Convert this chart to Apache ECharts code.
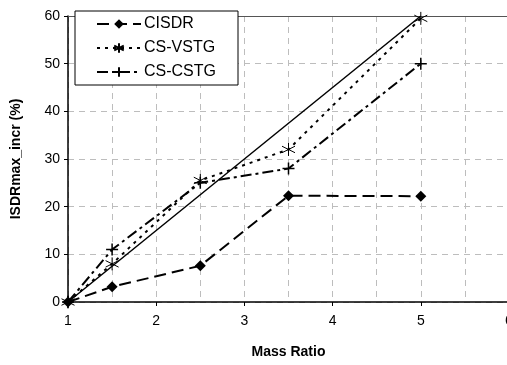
<!DOCTYPE html>
<html><head><meta charset="utf-8">
<script src="https://cdn.jsdelivr.net/npm/echarts@6/dist/echarts.min.js"></script>
<style>html,body{margin:0;padding:0;background:#fff}#c{width:507px;height:365px}</style>
</head><body><div id="c"></div>
<script>
const massRatio = [1, 1.5, 2.5, 3.5, 5];
const cisdr = [0, 3.2, 7.6, 22.3, 22.2];
const csVstg = [0, 8, 25.5, 32, 59.5];
const csCstg = [0, 11, 25, 28, 50];
const refX = [1, 5];
const refY = [0, 60];
const names = ['CISDR', 'CS-VSTG', 'CS-CSTG'];

const pair = (xs, ys) => xs.map((x, i) => [x, ys[i]]);
const font = 'Liberation Sans, Arial, sans-serif';
const starPath = 'path://M0,-10L0,10M-8.7,-5L8.7,5M-8.7,5L8.7,-5';
const plusPath = 'path://M0,-10L0,10M-10,0L10,0';
const gridDash = { color: '#bdbdbd', type: [6, 5], width: 1 };

const chart = echarts.init(document.getElementById('c'));
chart.setOption({
  animation: false,
  grid: { left: 68, right: -2, top: 16, bottom: 63, outerBoundsMode: 'none', containLabel: false },
  legend: {
    data: names, orient: 'vertical', left: 75, top: 11,
    padding: [5, 22, 5, 21], itemGap: 8, itemWidth: 44, itemHeight: 12,
    backgroundColor: '#fff', borderColor: '#000', borderWidth: 1,
    textStyle: { fontFamily: font, fontSize: 16, color: '#000', padding: [0, 0, 0, -2] }
  },
  xAxis: [{
    type: 'value', min: 1, max: 6, interval: 1,
    name: 'Mass Ratio', nameLocation: 'middle', nameGap: 43,
    nameTextStyle: { fontFamily: font, fontSize: 14, fontWeight: 'bold', color: '#000' },
    axisLine: { lineStyle: { color: '#000', width: 1.5 } },
    axisTick: { show: true, length: 4, lineStyle: { color: '#000' } },
    minorTick: { show: false, splitNumber: 2 },
    axisLabel: { fontFamily: font, fontSize: 14, color: '#000', margin: 12 },
    splitLine: { show: true, lineStyle: gridDash },
    minorSplitLine: { show: true, lineStyle: gridDash }
  }, {
    type: 'value', min: 1, max: 6, position: 'top',
    axisLine: { show: true, onZero: false, lineStyle: { color: '#555', width: 1 } },
    axisTick: { show: false }, axisLabel: { show: false }, splitLine: { show: false }
  }],
  yAxis: {
    type: 'value', min: 0, max: 60, interval: 10,
    name: 'ISDRmax_incr (%)', nameLocation: 'middle', nameGap: 45,
    nameTextStyle: { fontFamily: font, fontSize: 14, fontWeight: 'bold', color: '#000' },
    axisLine: { show: true, lineStyle: { color: '#000', width: 1.5 } },
    axisTick: { show: true, length: 4, lineStyle: { color: '#000' } },
    axisLabel: { fontFamily: font, fontSize: 14, color: '#000', margin: 8 },
    splitLine: { show: true, lineStyle: gridDash }
  },
  series: [
    { name: 'ref', type: 'line', data: pair(refX, refY), symbol: 'none', z: 2,
      lineStyle: { color: '#000', width: 1.5 } },
    { name: 'CISDR', type: 'line', data: pair(massRatio, cisdr), symbol: 'diamond', symbolSize: 11,
      itemStyle: { color: '#000' }, lineStyle: { color: '#000', width: 2, type: [12, 6] }, clip: false, z: 3 },
    { name: 'CS-VSTG', type: 'line', data: pair(massRatio, csVstg), symbol: starPath, symbolSize: 13,
      itemStyle: { color: 'rgba(0,0,0,0)', borderColor: '#000', borderWidth: 1 },
      lineStyle: { color: '#000', width: 2, type: [3, 5] }, clip: false, z: 3 },
    { name: 'CS-CSTG', type: 'line', data: pair(massRatio, csCstg), symbol: plusPath, symbolSize: 12,
      itemStyle: { color: 'rgba(0,0,0,0)', borderColor: '#000', borderWidth: 1.5 },
      lineStyle: { color: '#000', width: 2, type: [11, 4, 3, 4] }, clip: false, z: 3 }
  ]
});
</script></body></html>
